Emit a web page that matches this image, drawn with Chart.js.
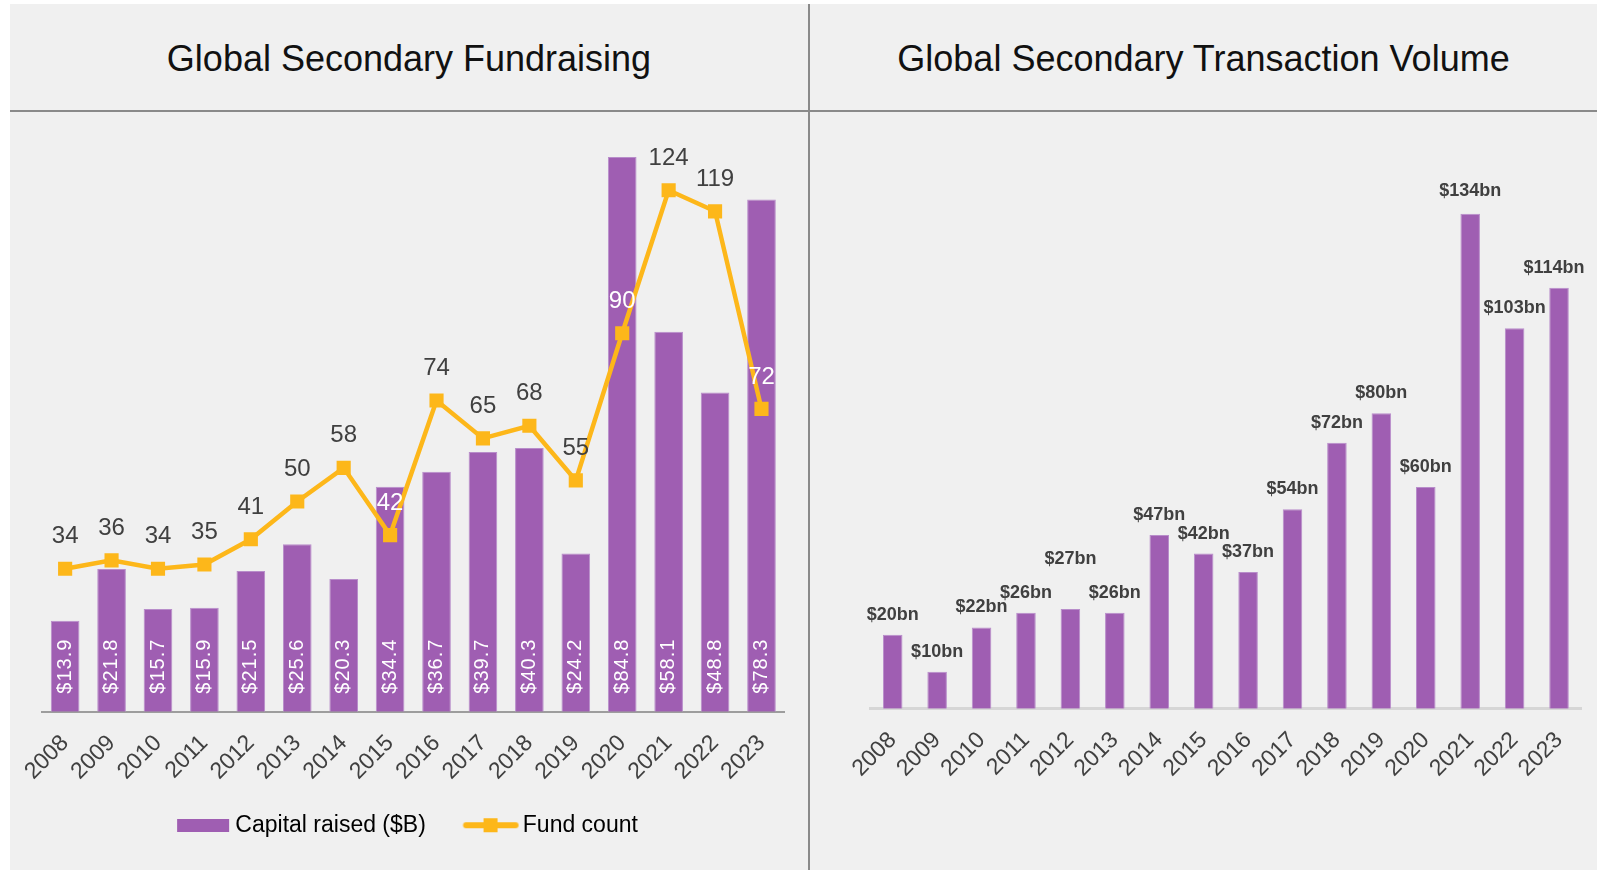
<!DOCTYPE html>
<html><head><meta charset="utf-8">
<script src="https://cdn.jsdelivr.net/npm/chart.js@4.4.1/dist/chart.umd.min.js"></script>
<style>
html,body{margin:0;padding:0;background:#fff;width:1597px;height:870px;overflow:hidden;font-family:"Liberation Sans",Arial,sans-serif}
#frame{position:absolute;left:10px;top:4px;width:1587px;height:866px;background:#f0f0f0}
.hline{position:absolute;left:10px;top:110px;width:1587px;height:2px;background:#8a8a8a}
.vline{position:absolute;left:808px;top:4px;width:2px;height:866px;background:#8a8a8a}
.title{position:absolute;top:41px;line-height:36px;font-size:36px;color:#111;text-align:center;white-space:nowrap}
#t1{left:10px;width:798px}
#t2{left:810px;width:787px}
.box{position:absolute;top:112px;height:758px}
#b1{left:10px;width:798px}
#b2{left:811px;width:786px}
</style></head>
<body>
<div id="frame"></div>
<div class="hline"></div>
<div class="vline"></div>
<div class="title" id="t1">Global Secondary Fundraising</div>
<div class="title" id="t2">Global Secondary Transaction Volume</div>
<div class="box" id="b1"><canvas id="c1"></canvas></div>
<div class="box" id="b2"><canvas id="c2"></canvas></div>
<script>
// ---- data ----
const years = ['2008','2009','2010','2011','2012','2013','2014','2015','2016','2017','2018','2019','2020','2021','2022','2023'];
const capitalRaised = [13.9,21.8,15.7,15.9,21.5,25.6,20.3,34.4,36.7,39.7,40.3,24.2,84.8,58.1,48.8,78.3];
const fundCount = [34,36,34,35,41,50,58,42,74,65,68,55,90,124,119,72];
const transactionVolume = [20,10,22,26,27,26,47,42,37,54,72,80,60,134,103,114];
const legendLabels = ['Capital raised ($B)','Fund count'];

// ---- styles ----
const FONT = '"Liberation Sans", Arial, sans-serif';
const PURPLE = '#9f5eb2';
const PURPLE_EDGE = '#b88dca';
const GOLD = '#fdb71a';
const TEXT = '#404040';
Chart.defaults.font.family = FONT;
Chart.defaults.color = TEXT;

function legendBarIcon(){
  const c = document.createElement('canvas'); c.width = 68; c.height = 13;
  const g = c.getContext('2d'); g.fillStyle = PURPLE; g.fillRect(15, 0, 52, 13); return c;
}
function legendLineIcon(){
  const c = document.createElement('canvas'); c.width = 72; c.height = 16;
  const g = c.getContext('2d');
  g.strokeStyle = GOLD; g.lineWidth = 6; g.lineCap = 'round';
  g.beginPath(); g.moveTo(18.5, 8); g.lineTo(68, 8); g.stroke();
  g.fillStyle = GOLD; g.fillRect(36, 1, 14, 14); return c;
}

const fundLabels = {
  id: 'fundLabels',
  afterDatasetsDraw(chart) {
    const ctx = chart.ctx;
    const barMeta = chart.getDatasetMeta(0);
    const lineMeta = chart.getDatasetMeta(1);
    const base = chart.chartArea.bottom;
    ctx.save();
    ctx.font = '20px ' + FONT;
    ctx.letterSpacing = '1px';
    ctx.fillStyle = '#ffffff';
    ctx.textAlign = 'left';
    ctx.textBaseline = 'middle';
    barMeta.data.forEach((el, i) => {
      ctx.save();
      ctx.translate(el.x, base - 18);
      ctx.rotate(-Math.PI / 2);
      ctx.fillText('$' + capitalRaised[i].toFixed(1), 0, 0);
      ctx.restore();
    });
    ctx.letterSpacing = '0px';
    ctx.font = '24px ' + FONT;
    ctx.textAlign = 'center';
    lineMeta.data.forEach((pt, i) => {
      const y = pt.y - 32;
      const bar = barMeta.data[i];
      ctx.fillStyle = (y > bar.y) ? '#ffffff' : TEXT;
      ctx.fillText(String(fundCount[i]), pt.x, y);
    });
    ctx.restore();
  }
};

const volumeLabels = {
  id: 'volumeLabels',
  afterDatasetsDraw(chart, args, opts) {
    const ctx = chart.ctx;
    const meta = chart.getDatasetMeta(0);
    ctx.save();
    ctx.font = 'bold 18px ' + FONT;
    ctx.fillStyle = TEXT;
    ctx.textAlign = 'center';
    ctx.textBaseline = 'middle';
    meta.data.forEach((el, i) => {
      const lift = opts.gap + (opts.extraLift[i] || 0);
      const shift = opts.shift[i] || 0;
      ctx.fillText('$' + transactionVolume[i] + 'bn', el.x + shift, el.y - lift);
    });
    ctx.restore();
  }
};

const xAxisCommon = (borderColor, borderWidth, h) => ({
  grid: {display: false, drawTicks: false},
  border: {display: true, color: borderColor, width: borderWidth},
  ticks: {color: TEXT, font: {size: 23}, minRotation: 45, maxRotation: 45, autoSkip: false, padding: 18},
  afterFit(s) { s.height = h; }
});

new Chart(document.getElementById('c1'), {
  type: 'bar',
  data: {
    labels: years,
    datasets: [
      {type: 'bar', label: legendLabels[0], data: capitalRaised, backgroundColor: PURPLE,
       borderColor: PURPLE_EDGE, borderWidth: 1, barPercentage: 0.617, categoryPercentage: 1,
       yAxisID: 'y', order: 2},
      {type: 'line', label: legendLabels[1], data: fundCount, borderColor: GOLD, borderWidth: 4.5,
       pointStyle: 'rect', pointRadius: 10, pointHoverRadius: 10, pointBackgroundColor: GOLD,
       pointBorderColor: GOLD, pointBorderWidth: 0, yAxisID: 'y2', order: 1, tension: 0}
    ]
  },
  options: {
    responsive: true, maintainAspectRatio: false, animation: false,
    layout: {padding: {left: 30.7, right: 23.3, top: 11, bottom: 23.3}},
    scales: {
      x: xAxisCommon('#9d9d9d', 2, 72),
      y: {display: false, min: 0, max: 90},
      y2: {display: false, min: 0, max: 140, position: 'right'}
    },
    plugins: {
      tooltip: {enabled: false},
      legend: {
        position: 'bottom',
        labels: {
          usePointStyle: true, pointStyleWidth: 55.5, padding: 30,
          font: {size: 23}, color: TEXT,
          generateLabels: () => [
            {text: legendLabels[0], pointStyle: legendBarIcon(), fillStyle: PURPLE, strokeStyle: PURPLE, lineWidth: 0, hidden: false, datasetIndex: 0},
            {text: legendLabels[1] + '   ', pointStyle: legendLineIcon(), fillStyle: GOLD, strokeStyle: GOLD, lineWidth: 0, hidden: false, datasetIndex: 1}
          ]
        }
      }
    }
  },
  plugins: [fundLabels]
});

new Chart(document.getElementById('c2'), {
  type: 'bar',
  data: {
    labels: years,
    datasets: [
      {label: 'Transaction volume', data: transactionVolume, backgroundColor: PURPLE,
       borderColor: PURPLE_EDGE, borderWidth: 1, barPercentage: 0.44, categoryPercentage: 1}
    ]
  },
  options: {
    responsive: true, maintainAspectRatio: false, animation: false,
    layout: {padding: {left: 59.5, right: 14.5, top: 5.8, bottom: 0}},
    scales: {
      x: xAxisCommon('#d6d6d6', 3, 161.3),
      y: {display: false, min: 0, max: 160}
    },
    plugins: {
      tooltip: {enabled: false},
      legend: {display: false},
      volumeLabels: {gap: 20, extraLift: {4: 30, 13: 3}, shift: {15: -5}}
    }
  },
  plugins: [volumeLabels]
});
</script>
</body></html>
